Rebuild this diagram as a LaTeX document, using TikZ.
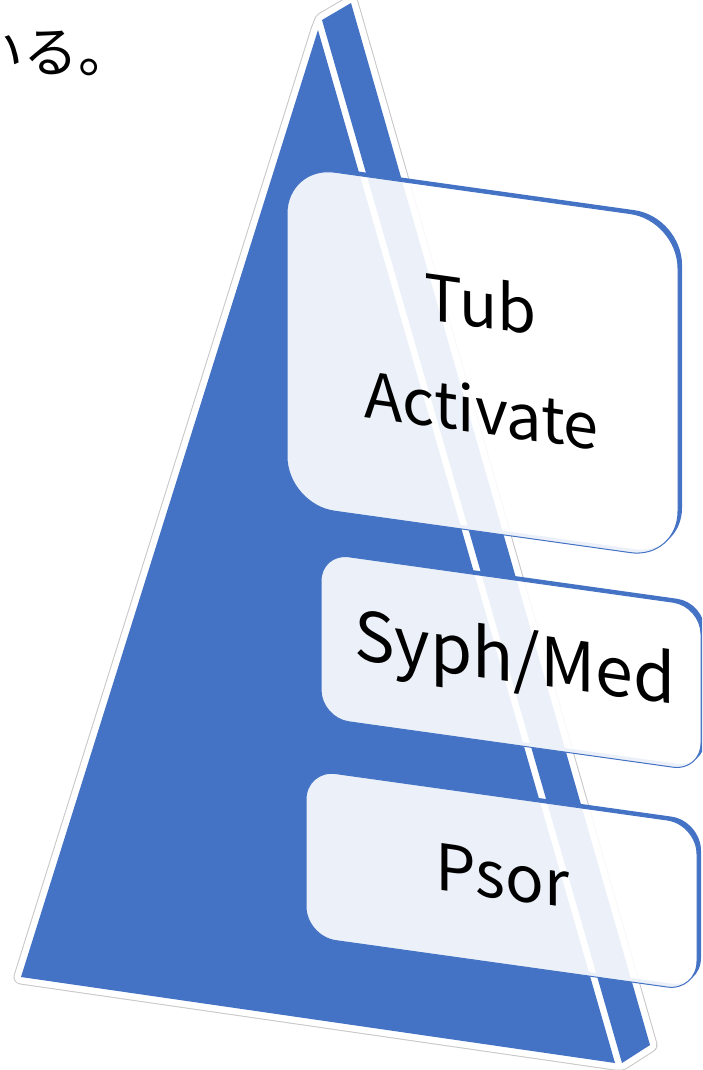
\documentclass[tikz,border=0pt]{standalone}
\usepackage{fontspec}
\newfontfamily\jpfont{Noto Sans CJK JP}
\definecolor{pyr}{HTML}{4472C4}
\tikzset{
  face/.style={fill=pyr},
  glowline/.style={draw=black!22, line width=15pt, line join=round},
  glowwhite/.style={draw=white, line width=13pt, line join=round},
  boxedge/.style={fill=pyr, even odd rule},
  boxfill/.style={fill=white, fill opacity=0.9, draw=pyr, draw opacity=1, line width=1pt},
  lbl/.style={transform shape, anchor=base, inner sep=0pt, text=black},
}
\newcommand\slantbox[6]{%
  % #1 cx, #2 cy, #3 w, #4 h, #5 radius, #6 contents
  \begin{scope}[shift={(#1,#2)}, yslant=-0.14]
    \fill[boxedge, rounded corners=#5pt]
      ({-#3/2+4},{-#4/2-4}) rectangle ({#3/2+4},{#4/2-4})
      ({-#3/2},{-#4/2}) rectangle ({#3/2},{#4/2});
    \path[boxfill, rounded corners=#5pt] ({-#3/2},{-#4/2}) rectangle ({#3/2},{#4/2});
    #6
  \end{scope}%
}
\begin{document}
\begin{tikzpicture}[x=1pt,y=-1pt]
\useasboundingbox (0,0) rectangle (702,1070);
\clip (0,0) rectangle (702,1070);
% pyramid corners
\coordinate (FA) at (318,30);
\coordinate (FL) at (21,977);
\coordinate (FR) at (615,1063);
\coordinate (SA) at (322,20);
\coordinate (SB) at (351,3);
\coordinate (SC) at (650,1045);
\coordinate (SD) at (622,1063);
% outer glow outline
\draw[glowline] (FA) -- (SA) -- (SB) -- (SC) -- (SD) -- (FR) -- (FL) -- cycle;
\draw[glowwhite] (FA) -- (SA) -- (SB) -- (SC) -- (SD) -- (FR) -- (FL) -- cycle;
\fill[white] (FA) -- (SA) -- (SB) -- (SC) -- (SD) -- (FR) -- (FL) -- cycle;
% faces
\fill[face] (FA) -- (FL) -- (FR) -- cycle;
\fill[face] (SA) -- (SB) -- (SC) -- (SD) -- cycle;
% Japanese text fragment
\node[anchor=base west, inner sep=0pt, font=\jpfont\fontsize{55}{60}\selectfont] (jp) at (-32,73) {いる。};
% boxes
\slantbox{482.5}{362.4}{391}{339}{48}{%
  \node[lbl, font=\jpfont\fontsize{63}{76}\selectfont] (tub) at (-2,-34.5) {Tub};
  \node[lbl, font=\jpfont\fontsize{63}{76}\selectfont] (act) at (-1,71.3) {Activate};
}
\slantbox{511}{662}{380}{165}{28}{%
  \node[lbl, font=\jpfont\fontsize{68}{80}\selectfont] (syph) at (4,19.4) {Syph/Med};
}
\slantbox{501.5}{880.3}{391}{167}{30}{%
  \node[lbl, font=\jpfont\fontsize{64}{76}\selectfont] (psor) at (1,18.6) {Psor};
}
\end{tikzpicture}
\end{document}
